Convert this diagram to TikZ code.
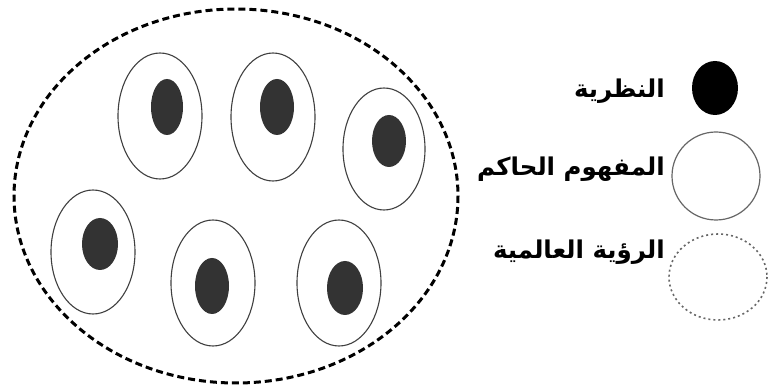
\documentclass[tikz,border=0pt]{standalone}
\usepackage{fontspec}
\newfontfamily\arabicfont[Script=Arabic]{DejaVu Sans}
\TeXXeTstate=1
\begin{document}
\begin{tikzpicture}[x=1pt,y=-1pt,
  ring/.style={draw=black!75,line width=1.1pt,fill=white},
  core/.style={fill=black!80,draw=none},
  world/.style={draw=black,line width=3pt,dash pattern=on 7pt off 4pt},
  lab/.style={anchor=east,font=\arabicfont\bfseries\fontsize{24.5}{28}\selectfont,inner sep=0pt}]
\useasboundingbox (0,0) rectangle (769,387);
\draw[world] (236,196) ellipse [x radius=222,y radius=187];
% cells
\draw[ring] (160,116) ellipse [x radius=42,y radius=63];
\fill[core] (167,107) ellipse [x radius=16,y radius=28];
\draw[ring] (273,117) ellipse [x radius=42,y radius=64];
\fill[core] (277,107) ellipse [x radius=17,y radius=28];
\draw[ring] (384,149) ellipse [x radius=41,y radius=61];
\fill[core] (389,141) ellipse [x radius=17,y radius=26];
\draw[ring] (93,252) ellipse [x radius=42,y radius=62];
\fill[core] (100,244) ellipse [x radius=18,y radius=26];
\draw[ring] (213,283) ellipse [x radius=42,y radius=63];
\fill[core] (212,286) ellipse [x radius=17,y radius=28];
\draw[ring] (339,283) ellipse [x radius=42,y radius=63];
\fill[core] (345,288) ellipse [x radius=18,y radius=27];
% legend
\fill[black] (715,88) ellipse [x radius=23,y radius=27];
\draw[black!60,line width=1.2pt] (716,176) circle [radius=44];
\draw[black!60,line width=1.6pt,dash pattern=on 2pt off 3pt] (718,277) ellipse [x radius=49,y radius=43];
\node[lab] (t1) at (665,91) {\beginR النظرية\endR};
\node[lab] (t2) at (665,169) {\beginR المفهوم الحاكم\endR};
\node[lab] (t3) at (665,252) {\beginR الرؤية العالمية\endR};
\end{tikzpicture}
\end{document}
